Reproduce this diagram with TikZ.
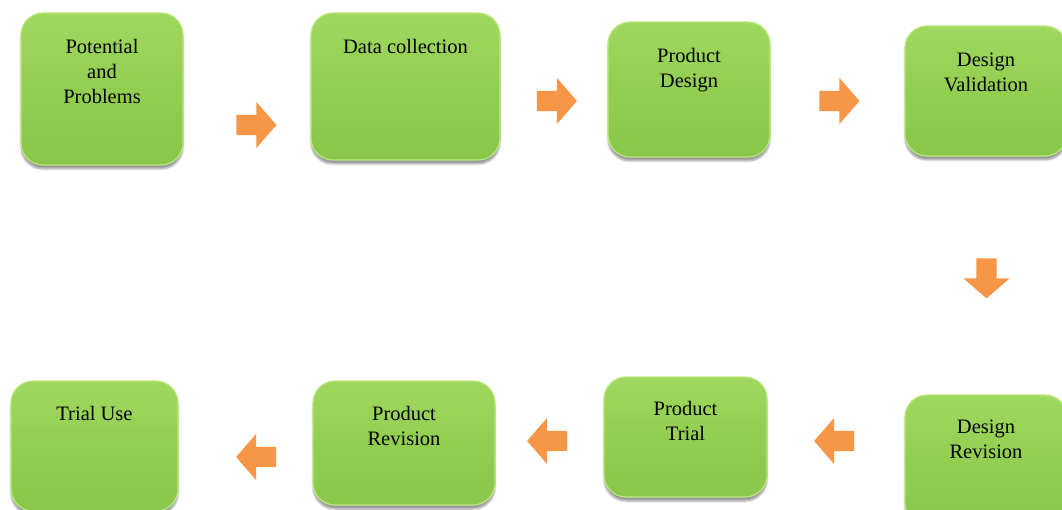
\documentclass[tikz,border=0pt]{standalone}
\usepackage{fontspec}
\setmainfont{Liberation Serif}
\newfontfamily\tnr{Liberation Serif}
\usetikzlibrary{shapes.arrows,shadows.blur}
\definecolor{boxgreen}{RGB}{146,206,80}
\definecolor{boxtop}{RGB}{160,216,95}
\definecolor{boxbot}{RGB}{138,198,74}
\definecolor{boxedge}{RGB}{185,232,125}
\definecolor{arrowor}{RGB}{247,150,70}
\tikzset{
  stepbox/.style={rectangle, rounded corners=22pt, inner sep=0pt,
    top color=boxtop, bottom color=boxbot, middle color=boxgreen,
    draw=boxedge, line width=1.2pt,
    blur shadow={shadow xshift=0pt, shadow yshift=-4pt, shadow opacity=40, shadow blur steps=6}},
  lbl/.style={align=center, inner sep=0pt, anchor=north,
    font=\tnr\fontsize{20.5}{25}\selectfont, text=black},
  blockarrow/.style={single arrow, draw=none, inner sep=10pt,
    minimum height=40pt, single arrow head extend=13pt,
    single arrow tip angle=98, fill=arrowor}
}
\begin{document}
\begin{tikzpicture}[x=1pt,y=-1pt]
\useasboundingbox (0,0) rectangle (1062,510);
\clip (0,0) rectangle (1062,510);
% boxes
\node[stepbox, minimum width=162pt, minimum height=152pt] (b1) at (102,89) {};
\node[stepbox, minimum width=189pt, minimum height=147pt] (b2) at (405.5,86.5) {};
\node[stepbox, minimum width=162pt, minimum height=135pt] (b3) at (689,89.5) {};
\node[stepbox, minimum width=162pt, minimum height=130pt] (b4) at (986,91) {};
\node[stepbox, minimum width=162pt, minimum height=130pt] (b5) at (986,460) {};
\node[stepbox, minimum width=163pt, minimum height=120pt] (b6) at (685.5,437) {};
\node[stepbox, minimum width=182pt, minimum height=124pt] (b7) at (404,443) {};
\node[stepbox, minimum width=167pt, minimum height=130pt] (b8) at (94.5,446) {};
% labels
\node[lbl] (t1) at (102,39) {Potential\\and\\Problems};
\node[lbl] (t2) at (405.5,39) {Data collection};
\node[lbl] (t3) at (689,48) {Product\\Design};
\node[lbl] (t4) at (986,53) {Design\\Validation};
\node[lbl] (t5) at (986,420) {Design\\Revision};
\node[lbl] (t6) at (685.5,401) {Product\\Trial};
\node[lbl] (t7) at (404,406) {Product\\Revision};
\node[lbl] (t8) at (94.5,406) {Trial Use};
% arrows
\node[blockarrow, shape border rotate=0] (a1) at (252,125) {};
\node[blockarrow, shape border rotate=0] (a2) at (552.5,101) {};
\node[blockarrow, shape border rotate=0] (a3) at (835,101) {};
\node[blockarrow, shape border rotate=270] (a4) at (986.5,274) {};
\node[blockarrow, shape border rotate=180] (a5) at (838.5,441) {};
\node[blockarrow, shape border rotate=180] (a6) at (551.5,441) {};
\node[blockarrow, shape border rotate=180] (a7) at (260.5,457) {};
\end{tikzpicture}
\end{document}
